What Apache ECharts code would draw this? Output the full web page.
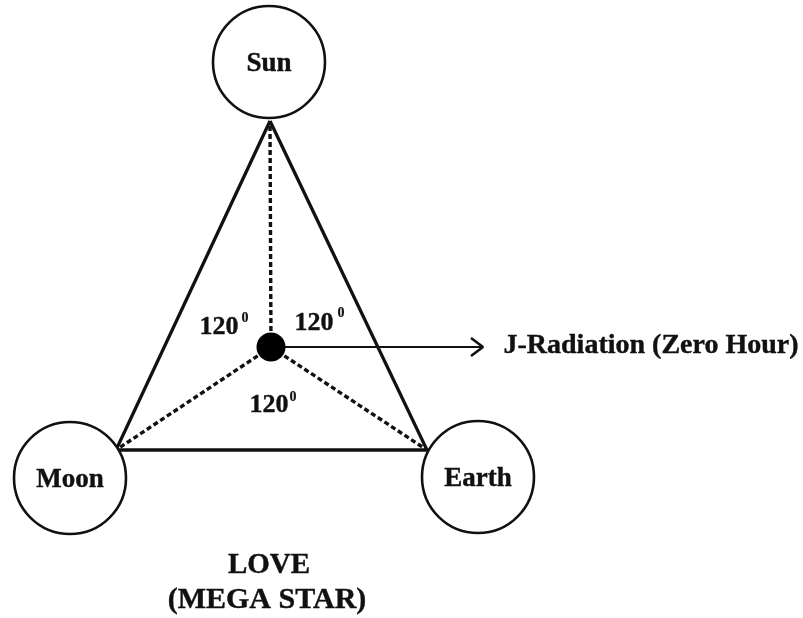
<!DOCTYPE html>
<html>
<head>
<meta charset="utf-8">
<script src="https://cdn.jsdelivr.net/npm/echarts@6/dist/echarts.min.js"></script>
<style>html,body{margin:0;padding:0;background:#fff}#c{width:803px;height:618px}</style>
</head>
<body>
<div id="c"></div>
<script>
// Bodies (circles)
const bodies = ['Sun', 'Moon', 'Earth'];
const bodyX = [269, 70, 478];
const bodyY = [62, 478, 477];
// Triangle vertices (Sun apex, Moon, Earth)
const vertexX = [270, 116, 427];
const vertexY = [121, 450, 450];
// Central point (J-Radiation source)
const hubX = 271, hubY = 347;
// Arrow end
const arrowEndX = 483;
// Angle labels
const angleText = ['120', '120', '120'];
const angleX = [219, 314, 269];
const angleY = [327, 323, 405];
const degX = [245, 341, 293];
const degY = [318, 313, 397];
// Other texts
const radiationLabel = 'J-Radiation (Zero Hour)';
const titleLines = ['LOVE', '(MEGA STAR)'];

const FONT = '"Liberation Serif", "Times New Roman", serif';
const INK = '#111';

const chart = echarts.init(document.getElementById('c'), null, {renderer: 'canvas'});

const tri = [0, 1, 2, 0].map(i => [vertexX[i], vertexY[i]]);
const spokes = [0, 1, 2].map(i => ({coords: [[hubX, hubY], [vertexX[i], vertexY[i]]]}));

function textLabel(size, extra) {
  return Object.assign({show: true, position: 'inside', formatter: p => p.name,
    fontFamily: FONT, fontWeight: 'bold', fontSize: size, color: INK,
    textBorderColor: INK, textBorderWidth: 0.4}, extra || {});
}

chart.setOption({
  animation: false,
  backgroundColor: '#fff',
  grid: {left: 0, right: 0, top: 0, bottom: 0},
  xAxis: {type: 'value', min: 0, max: 803, show: false},
  yAxis: {type: 'value', min: 0, max: 618, inverse: true, show: false},
  series: [
    {
      type: 'line', data: tri, symbol: 'none', z: 2,
      lineStyle: {color: INK, width: 3.3, join: 'miter'}
    },
    {
      type: 'lines', coordinateSystem: 'cartesian2d', data: spokes, z: 2,
      lineStyle: {color: INK, width: 3.4, type: [5, 3], opacity: 1}
    },
    {
      type: 'line', data: [[hubX, hubY], [arrowEndX, hubY]], symbol: 'none', z: 2,
      lineStyle: {color: INK, width: 2.2}
    },
    {
      type: 'line', data: [[arrowEndX - 12, hubY - 9], [arrowEndX, hubY], [arrowEndX - 12, hubY + 9]], symbol: 'none', z: 2,
      lineStyle: {color: INK, width: 2.6}
    },
    {
      type: 'scatter', z: 3,
      data: bodies.map((n, i) => ({name: n, value: [bodyX[i], bodyY[i]]})),
      symbol: 'circle', symbolSize: 112,
      itemStyle: {color: '#fff', borderColor: INK, borderWidth: 2.6, opacity: 1},
      label: textLabel(27, {offset: [0, 2]}),
      emphasis: {disabled: true}
    },
    {
      type: 'scatter', z: 4, data: [[hubX, hubY]], symbol: 'circle', symbolSize: 29,
      itemStyle: {color: '#000', opacity: 1}, emphasis: {disabled: true}
    },
    {
      type: 'scatter', z: 5, symbolSize: 0, itemStyle: {opacity: 1},
      data: angleText.map((t, i) => ({name: t, value: [angleX[i], angleY[i]]})),
      label: textLabel(26), emphasis: {disabled: true}
    },
    {
      type: 'scatter', z: 5, symbolSize: 0, itemStyle: {opacity: 1},
      data: degX.map((x, i) => ({name: '0', value: [x, degY[i]]})),
      label: textLabel(14, {textBorderWidth: 0.2}), emphasis: {disabled: true}
    },
    {
      type: 'scatter', z: 5, symbolSize: 0, itemStyle: {opacity: 1},
      data: [
        {name: radiationLabel, value: [651, 346], label: {fontSize: 28}},
        {name: titleLines[0], value: [269, 566], label: {fontSize: 29}},
        {name: titleLines[1], value: [267, 600], label: {fontSize: 30}}
      ],
      label: textLabel(28), emphasis: {disabled: true}
    }
  ]
});
</script>
</body>
</html>
